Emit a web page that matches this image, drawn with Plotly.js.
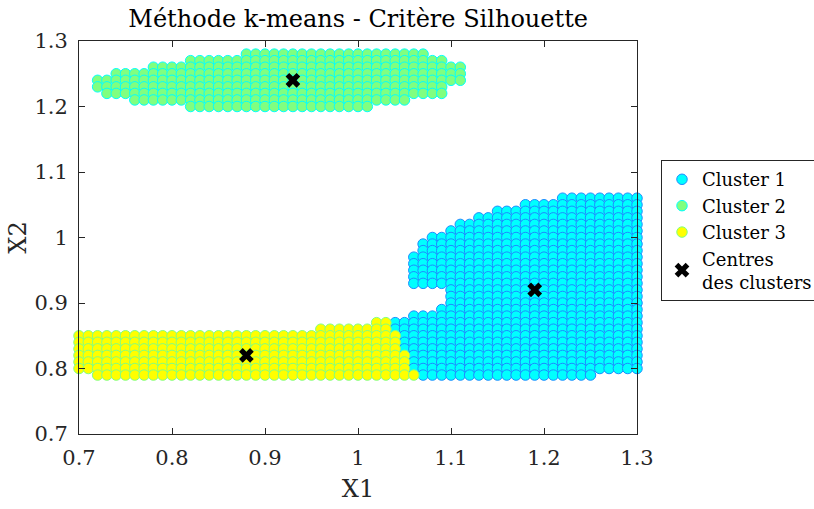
<!DOCTYPE html>
<html>
<head>
<meta charset="utf-8">
<script src="https://cdn.plot.ly/plotly-3.0.1.min.js"></script>
<style>html,body{margin:0;padding:0;background:#fff;}#chart{width:814px;height:509px;}</style>
</head>
<body>
<div id="chart"></div>
<script>
// Cluster 1 (cyan): rows of X2 with X1 extents (grid step 0.01)
const c1Rows = [1.06,1.05,1.04,1.03,1.02,1.01,1.00,0.99,0.98,0.97,0.96,0.95,0.94,0.93,0.92,0.91,0.90,0.89,0.88,0.87,0.86,0.85,0.84,0.83,0.82,0.81,0.80,0.79];
const c1Min  = [1.22,1.18,1.15,1.13,1.11,1.10,1.08,1.07,1.07,1.06,1.06,1.06,1.06,1.06,1.10,1.10,1.10,1.09,1.06,1.04,1.04,1.05,1.05,1.05,1.06,1.06,1.06,1.07];
const c1Max  = [1.30,1.30,1.30,1.30,1.30,1.30,1.30,1.30,1.30,1.30,1.30,1.30,1.30,1.30,1.30,1.30,1.30,1.30,1.30,1.30,1.30,1.30,1.30,1.30,1.30,1.30,1.30,1.25];

// Cluster 2 (green)
const c2Rows = [1.28,1.27,1.26,1.25,1.24,1.23,1.22,1.21,1.20];
const c2Min  = [0.88,0.82,0.78,0.74,0.72,0.72,0.73,0.76,0.82];
const c2Max  = [1.07,1.09,1.11,1.11,1.11,1.09,1.09,1.05,1.01];

// Cluster 3 (yellow)
const c3Rows = [0.87,0.86,0.85,0.84,0.83,0.82,0.81,0.80,0.79];
const c3Min  = [1.02,0.96,0.70,0.70,0.70,0.70,0.70,0.70,0.72];
const c3Max  = [1.03,1.03,1.04,1.04,1.04,1.05,1.05,1.05,1.06];

// Cluster centres
const centreX = [1.19, 0.93, 0.88];
const centreY = [0.92, 1.24, 0.82];

const xTicks = [0.7,0.8,0.9,1,1.1,1.2,1.3];
const yTicks = [0.7,0.8,0.9,1,1.1,1.2,1.3];
const xTickText = ['0.7','0.8','0.9','1','1.1','1.2','1.3'];
const yTickText = ['0.7','0.8','0.9','1','1.1','1.2','1.3'];

function expand(rows, mins, maxs){
  const xs=[], ys=[];
  for(let i=0;i<rows.length;i++){
    const a=Math.round(mins[i]*100), b=Math.round(maxs[i]*100);
    for(let k=a;k<=b;k++){ xs.push(k/100); ys.push(rows[i]); }
  }
  return {xs, ys};
}
const p1=expand(c1Rows,c1Min,c1Max), p2=expand(c2Rows,c2Min,c2Max), p3=expand(c3Rows,c3Min,c3Max);

const FONT='"DejaVu Serif", "Liberation Serif", serif';
const mk=(fill,edge)=>({size:10.5, color:fill, line:{color:edge,width:1}});
const traces=[
  {type:'scatter',mode:'markers',name:'Cluster 1',x:p1.xs,y:p1.ys,marker:mk('#00FFFF','#1A8CFF'),cliponaxis:false},
  {type:'scatter',mode:'markers',name:'Cluster 2',x:p2.xs,y:p2.ys,marker:mk('#80FF80','#00FFFF'),cliponaxis:false},
  {type:'scatter',mode:'markers',name:'Cluster 3',x:p3.xs,y:p3.ys,marker:mk('#FFFF00','#80FF80'),cliponaxis:false},
  {type:'scatter',mode:'markers',name:'Centres<br>des clusters',x:centreX,y:centreY,
   marker:{symbol:'x',size:13,color:'#000000',line:{width:0}},cliponaxis:false}
];

const axisCommon={showgrid:false,zeroline:false,showline:true,linecolor:'#262626',linewidth:1,
  mirror:'ticks',ticks:'inside',ticklen:6,tickcolor:'#262626',automargin:false,
  tickfont:{family:FONT,size:21,color:'#262626'}};

const layout={
  width:814,height:509,
  margin:{l:79,r:177,t:41,b:75,autoexpand:false},
  paper_bgcolor:'#ffffff',plot_bgcolor:'#ffffff',
  title:{text:'Méthode k-means - Critère Silhouette',font:{family:FONT,size:24,color:'#000'},
         x:0.44,xanchor:'center',y:0.963,yanchor:'middle',automargin:false},
  xaxis:Object.assign({},axisCommon,{range:[0.7,1.3],tickvals:xTicks,ticktext:xTickText,ticklabelstandoff:5,
    title:{text:'X1',font:{family:FONT,size:24,color:'#262626'},standoff:10}}),
  yaxis:Object.assign({},axisCommon,{range:[0.7,1.3],tickvals:yTicks,ticktext:yTickText,ticklabelstandoff:6,
    title:{text:'X2',font:{family:FONT,size:24,color:'#262626'},standoff:0}}),
  showlegend:true,
  legend:{x:1.043,xanchor:'left',y:0.697,yanchor:'top',bgcolor:'#fff',bordercolor:'#262626',borderwidth:1,
    font:{family:FONT,size:18,color:'#000'},tracegroupgap:0,itemsizing:'trace',itemwidth:30,
    entrywidth:0}
};
Plotly.newPlot('chart',traces,layout,{displayModeBar:false,staticPlot:true});
</script>
</body>
</html>
